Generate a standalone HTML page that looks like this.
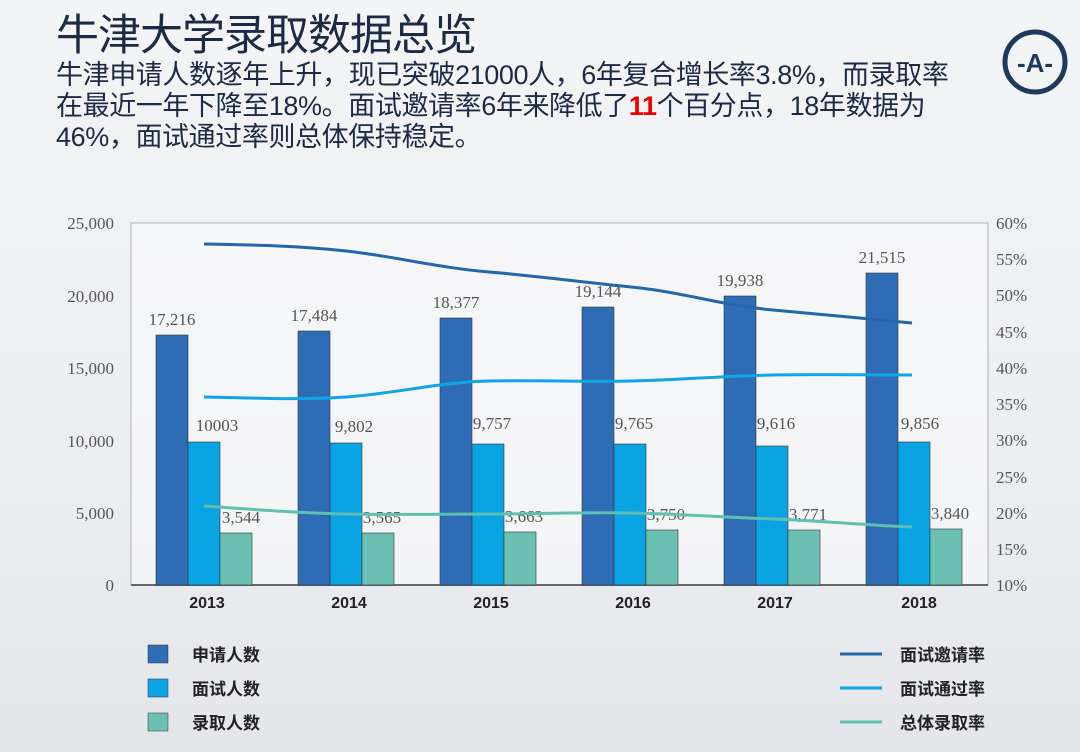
<!DOCTYPE html>
<html><head><meta charset="utf-8"><style>
body{margin:0;width:1080px;height:752px;overflow:hidden;background:linear-gradient(180deg,#f3f4f6 0%,#eceef1 60%,#e4e6ea 100%);font-family:"Liberation Sans","Noto Sans CJK SC",sans-serif;position:relative}
.t{position:absolute;left:56px;top:8px;font-size:43px;line-height:56px;color:#1d2a44;letter-spacing:-1px}
.p{position:absolute;left:56px;top:60px;font-size:27px;line-height:31px;color:#1d2a44;letter-spacing:-0.4px;width:980px;white-space:nowrap}
</style></head><body>
<div class="t">牛津大学录取数据总览</div>
<div class="p">牛津申请人数逐年上升，现已突破21000人，6年复合增长率3.8%，而录取率<br>在最近一年下降至18%。面试邀请率6年来降低了<b style="color:#e00">11</b>个百分点，18年数据为<br>46%，面试通过率则总体保持稳定。</div>
<svg width="1080" height="752" style="position:absolute;left:0;top:0">
<circle cx="1035" cy="62" r="30" fill="none" stroke="#1d3a5c" stroke-width="5"/>
<text x="1035" y="72" font-size="26" text-anchor="middle" fill="#1d3a5c" font-weight="bold" font-family="Liberation Sans">-A-</text>
<rect x="131" y="223" width="857" height="362" fill="#fbfbfc" opacity="0.6" stroke="#888" stroke-width="1"/>
<line x1="131" y1="585" x2="988" y2="585" stroke="#666" stroke-width="2"/>
<g font-family="Liberation Serif" font-size="17" fill="#555" text-anchor="end">
<text x="114" y="229">25,000</text><text x="114" y="302">20,000</text><text x="114" y="374">15,000</text><text x="114" y="447">10,000</text><text x="114" y="519">5,000</text><text x="114" y="591">0</text>
</g>
<g font-family="Liberation Serif" font-size="17" fill="#555">
<text x="996" y="229">60%</text><text x="996" y="265">55%</text><text x="996" y="301">50%</text><text x="996" y="338">45%</text><text x="996" y="374">40%</text><text x="996" y="410">35%</text><text x="996" y="446">30%</text><text x="996" y="483">25%</text><text x="996" y="519">20%</text><text x="996" y="555">15%</text><text x="996" y="591">10%</text>
</g>
<g stroke="#333" stroke-width="0.6">
<rect x="156" y="335" width="32" height="250" fill="#2e6db5"/><rect x="188" y="442" width="32" height="143" fill="#0aa3e4"/><rect x="220" y="533" width="32" height="52" fill="#6cc0b3"/>
<rect x="298" y="331" width="32" height="254" fill="#2e6db5"/><rect x="330" y="443" width="32" height="142" fill="#0aa3e4"/><rect x="362" y="533" width="32" height="52" fill="#6cc0b3"/>
<rect x="440" y="318" width="32" height="267" fill="#2e6db5"/><rect x="472" y="444" width="32" height="141" fill="#0aa3e4"/><rect x="504" y="532" width="32" height="53" fill="#6cc0b3"/>
<rect x="582" y="307" width="32" height="278" fill="#2e6db5"/><rect x="614" y="444" width="32" height="141" fill="#0aa3e4"/><rect x="646" y="530" width="32" height="55" fill="#6cc0b3"/>
<rect x="724" y="296" width="32" height="289" fill="#2e6db5"/><rect x="756" y="446" width="32" height="139" fill="#0aa3e4"/><rect x="788" y="530" width="32" height="55" fill="#6cc0b3"/>
<rect x="866" y="273" width="32" height="312" fill="#2e6db5"/><rect x="898" y="442" width="32" height="143" fill="#0aa3e4"/><rect x="930" y="529" width="32" height="56" fill="#6cc0b3"/>
</g>
<g font-family="Liberation Serif" font-size="17" fill="#555" text-anchor="middle">
<text x="172" y="325">17,216</text><text x="217" y="431">10003</text><text x="241" y="523">3,544</text>
<text x="314" y="321">17,484</text><text x="354" y="432">9,802</text><text x="382" y="523">3,565</text>
<text x="456" y="308">18,377</text><text x="492" y="429">9,757</text><text x="524" y="522">3,663</text>
<text x="598" y="297">19,144</text><text x="634" y="429">9,765</text><text x="666" y="520">3,750</text>
<text x="740" y="286">19,938</text><text x="776" y="429">9,616</text><text x="808" y="520">3,771</text>
<text x="882" y="263">21,515</text><text x="920" y="429">9,856</text><text x="950" y="519">3,840</text>
</g>
<g fill="none" stroke-width="3">
<path d="M204,244 C260,245 300,246 346,251 S440,268 489,272 S580,282 631,287 S720,305 773,310 S860,318 912,323" stroke="#2566a8"/>
<path d="M204,397 C260,398 300,400 346,397 S440,382 489,381 S580,382 631,381 S720,376 773,375 S860,375 912,375" stroke="#10a6e6"/>
<path d="M204,506 C260,510 300,513 346,514 S440,514 489,514 S580,512 631,513 S720,517 773,519 S860,525 912,527" stroke="#5fbfb0"/>
</g>
<g font-family="Liberation Sans" font-size="16" font-weight="bold" fill="#222" text-anchor="middle">
<text x="207" y="608">2013</text><text x="349" y="608">2014</text><text x="491" y="608">2015</text><text x="633" y="608">2016</text><text x="775" y="608">2017</text><text x="919" y="608">2018</text>
</g>
<rect x="148" y="645" width="20" height="18" fill="#2e6db5" stroke="#333" stroke-width="0.5"/>
<rect x="148" y="679" width="20" height="18" fill="#0aa3e4" stroke="#333" stroke-width="0.5"/>
<rect x="148" y="713" width="20" height="18" fill="#6cc0b3" stroke="#333" stroke-width="0.5"/>
<line x1="840" y1="654" x2="882" y2="654" stroke="#2566a8" stroke-width="3"/>
<line x1="840" y1="688" x2="882" y2="688" stroke="#10a6e6" stroke-width="3"/>
<line x1="840" y1="722" x2="882" y2="722" stroke="#5fbfb0" stroke-width="3"/>
<g font-family="Liberation Sans,Noto Sans CJK SC,sans-serif" font-size="17" font-weight="bold" fill="#222">
<text x="192" y="661">申请人数</text><text x="192" y="695">面试人数</text><text x="192" y="729">录取人数</text>
<text x="900" y="661">面试邀请率</text><text x="900" y="695">面试通过率</text><text x="900" y="729">总体录取率</text>
</g>
</svg>
</body></html>
